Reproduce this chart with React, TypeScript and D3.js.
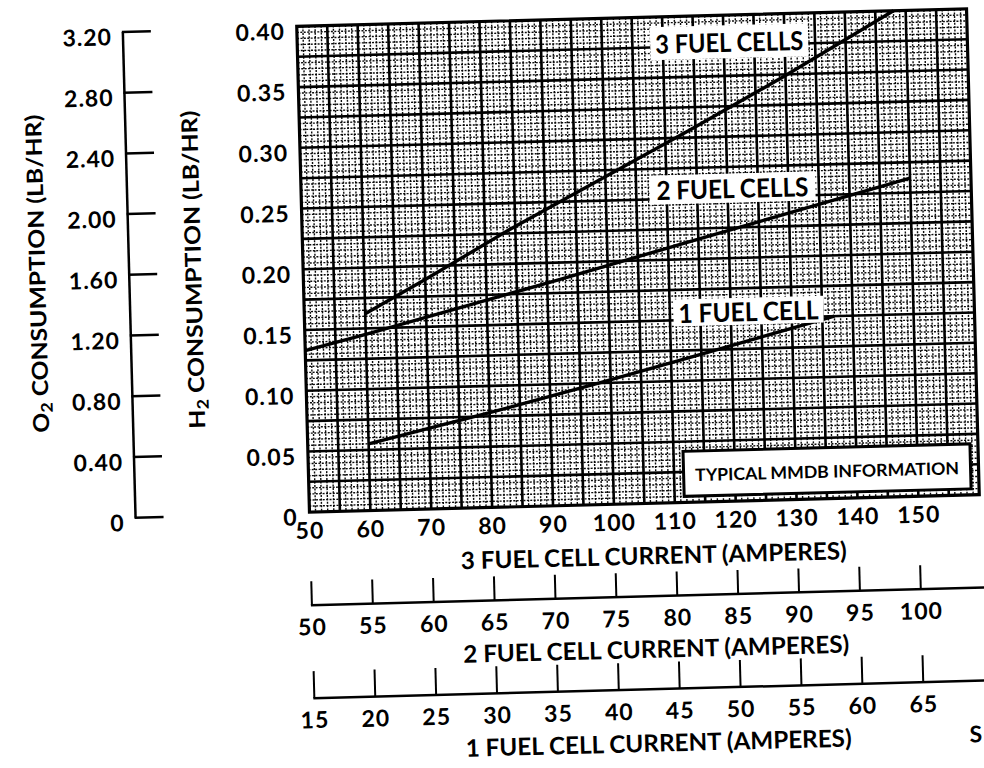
import { useEffect, useRef } from 'react';
import * as d3 from 'd3';

// tick values / labels
const amps3Ticks = [50, 60, 70, 80, 90, 100, 110, 120, 130, 140, 150];
const amps2Ticks = [50, 55, 60, 65, 70, 75, 80, 85, 90, 95, 100];
const amps1Ticks = [15, 20, 25, 30, 35, 40, 45, 50, 55, 60, 65];
const h2Ticks = [0, 0.05, 0.1, 0.15, 0.2, 0.25, 0.3, 0.35, 0.4];
const h2Labels = ['0', '0.05', '0.10', '0.15', '0.20', '0.25', '0.30', '0.35', '0.40'];
const o2Ticks = [0, 0.4, 0.8, 1.2, 1.6, 2.0, 2.4, 2.8, 3.2];
const o2Labels = ['0', '0.40', '0.80', '1.20', '1.60', '2.00', '2.40', '2.80', '3.20'];

// H2 consumption (3 fuel cell current, lb/hr)
const oneCellAmps = [60, 80, 98, 113, 137];
const oneCellH2 = [0.055, 0.078, 0.1, 0.119, 0.15];
const twoCellAmps = [50, 60, 92, 114, 150];
const twoCellH2 = [0.133, 0.145, 0.186, 0.215, 0.262];
const threeCellAmps = [60, 70, 84, 99, 114, 130, 148];
const threeCellH2 = [0.162, 0.189, 0.228, 0.267, 0.306, 0.349, 0.4];

const curveNames = ['3 FUEL CELLS', '2 FUEL CELLS', '1 FUEL CELL'];

const FONT = "Lato, 'DejaVu Sans', sans-serif";

const FuelCellChart = () => {
  const svgRef = useRef<SVGSVGElement>(null);

  useEffect(() => {
    const svg = d3.select(svgRef.current);
    svg.selectAll('*').remove();

    const left = 303, right = 973, top = 17.5, bottom = 503.5;

    // the scanned sheet sits slightly tilted
    const g = svg.append('g').attr('transform', 'rotate(-1.5 638 260.5)');

    const x = d3.scaleLinear().domain([50, 160]).range([left, right]);
    const y = d3.scaleLinear().domain([0, 0.4]).range([bottom, top]);
    const yO2 = d3.scaleLinear().domain([0, 3.2]).range([bottom + 1, top + 1]);
    const x2 = d3.scaleLinear().domain([50, 100]).range([x(50), x(150)]);
    const x1 = d3.scaleLinear().domain([15, 65]).range([x(50), x(150)]);

    // graph paper
    const grid = g.append('g');
    grid.append('rect')
      .attr('x', left).attr('y', top)
      .attr('width', right - left).attr('height', bottom - top)
      .attr('fill', '#fff');

    const minorX = d3.range(50, 161).filter(d => d % 5 !== 0);
    const minorY = d3.range(0, 81).filter(i => i % 5 !== 0).map(i => i * 0.005);
    const majorX = d3.range(55, 160, 5);
    const majorY = d3.range(1, 16).map(i => i * 0.025);

    grid.selectAll('.minor-x').data(minorX).enter().append('line')
      .attr('x1', d => x(d)).attr('x2', d => x(d))
      .attr('y1', top).attr('y2', bottom)
      .attr('stroke', '#000').attr('stroke-width', 1.4)
      .attr('stroke-dasharray', '2 1.4').attr('opacity', 0.95);
    grid.selectAll('.minor-y').data(minorY).enter().append('line')
      .attr('x1', left).attr('x2', right)
      .attr('y1', d => y(d)).attr('y2', d => y(d))
      .attr('stroke', '#000').attr('stroke-width', 1.4)
      .attr('stroke-dasharray', '2 1.4').attr('opacity', 0.95);
    grid.selectAll('.major-x').data(majorX).enter().append('line')
      .attr('x1', d => x(d)).attr('x2', d => x(d))
      .attr('y1', top).attr('y2', bottom)
      .attr('stroke', '#000').attr('stroke-width', 2.6);
    grid.selectAll('.major-y').data(majorY).enter().append('line')
      .attr('x1', left).attr('x2', right)
      .attr('y1', d => y(d)).attr('y2', d => y(d))
      .attr('stroke', '#000').attr('stroke-width', 2.6);

    // curves
    const line = d3.line<[number, number]>().x(d => x(d[0])).y(d => y(d[1]));
    const curves = [
      d3.zip(threeCellAmps, threeCellH2),
      d3.zip(twoCellAmps, twoCellH2),
      d3.zip(oneCellAmps, oneCellH2),
    ] as [number, number][][];
    curves.forEach(c => {
      g.append('path')
        .attr('d', line(c))
        .attr('fill', 'none')
        .attr('stroke', '#000')
        .attr('stroke-width', 3.4);
    });

    // curve labels on white patches
    const labelPos = [
      { a: 120.9, v: 0.378, w: 158, h: 33, len: 148 },
      { a: 120.8, v: 0.2576, w: 166, h: 29, len: 152 },
      { a: 122.9, v: 0.156, w: 150, h: 27, len: 140 },
    ];
    curveNames.forEach((name, i) => {
      const p = labelPos[i];
      const cx = x(p.a), cy = y(p.v);
      g.append('rect')
        .attr('x', cx - p.w / 2).attr('y', cy - p.h / 2)
        .attr('width', p.w).attr('height', p.h)
        .attr('fill', '#fff');
      g.append('text')
        .attr('x', cx).attr('y', cy)
        .attr('text-anchor', 'middle')
        .attr('dominant-baseline', 'central')
        .attr('textLength', p.len)
        .attr('lengthAdjust', 'spacingAndGlyphs')
        .style('font-family', FONT).style('font-weight', 700)
        .style('font-size', '26px')
        .text(name);
    });

    // info box
    const bw = 287, bh = 45;
    const bx = right - 8 - bw, by = bottom - 6 - bh;
    g.append('rect')
      .attr('x', bx).attr('y', by).attr('width', bw).attr('height', bh)
      .attr('fill', '#fff').attr('stroke', '#000').attr('stroke-width', 3);
    g.append('text')
      .attr('x', bx + bw / 2).attr('y', by + bh / 2 + 1)
      .attr('text-anchor', 'middle')
      .attr('dominant-baseline', 'central')
      .attr('textLength', 264)
      .attr('lengthAdjust', 'spacingAndGlyphs')
      .style('font-family', FONT).style('font-weight', 700)
      .style('font-size', '17px')
      .text('TYPICAL MMDB INFORMATION');

    // plot frame
    g.append('rect')
      .attr('x', left).attr('y', top)
      .attr('width', right - left).attr('height', bottom - top)
      .attr('fill', 'none').attr('stroke', '#000').attr('stroke-width', 3.2);

    const numStyle = (sel: any) => sel
      .style('font-family', FONT).style('font-weight', 700)
      .style('font-size', '23px').style('letter-spacing', '1px');

    // H2 labels
    h2Ticks.forEach((t, i) => {
      g.append('text')
        .attr('x', left - 12).attr('y', y(t) + 4)
        .attr('text-anchor', 'end')
        .attr('dominant-baseline', 'central')
        .call(numStyle)
        .text(h2Labels[i]);
    });

    // O2 scale
    const o2x = 129;
    g.append('line')
      .attr('x1', o2x).attr('x2', o2x)
      .attr('y1', yO2(0)).attr('y2', yO2(3.2))
      .attr('stroke', '#000').attr('stroke-width', 2.5);
    o2Ticks.forEach((t, i) => {
      g.append('line')
        .attr('x1', o2x - 1).attr('x2', o2x + 28)
        .attr('y1', yO2(t)).attr('y2', yO2(t))
        .attr('stroke', '#000').attr('stroke-width', 2.5);
      g.append('text')
        .attr('x', o2x - 11).attr('y', yO2(t) + 4)
        .attr('text-anchor', 'end')
        .attr('dominant-baseline', 'central')
        .call(numStyle)
        .text(o2Labels[i]);
    });

    // y titles
    const yTitle = (cx: number, lead: string) => {
      const t = g.append('text')
        .attr('transform', `translate(${cx},258) rotate(-90)`)
        .attr('text-anchor', 'middle')
        .attr('dominant-baseline', 'central')
        .attr('textLength', 318)
        .attr('lengthAdjust', 'spacingAndGlyphs')
        .style('font-family', FONT).style('font-weight', 700)
        .style('font-size', '22px');
      t.append('tspan').text(lead);
      t.append('tspan').attr('dy', 6).style('font-size', '16px').text('2');
      t.append('tspan').attr('dy', -6).text(' CONSUMPTION (LB/HR)');
    };
    yTitle(36, 'O');
    yTitle(192, 'H');

    // 3 fuel cell axis labels
    amps3Ticks.forEach(t => {
      g.append('text')
        .attr('x', x(t)).attr('y', 521)
        .attr('text-anchor', 'middle')
        .attr('dominant-baseline', 'central')
        .call(numStyle)
        .text(t);
    });

    const xTitle = (yy: number, text: string) => {
      g.append('text')
        .attr('x', 646).attr('y', yy)
        .attr('text-anchor', 'middle')
        .attr('dominant-baseline', 'central')
        .attr('textLength', 386)
        .attr('lengthAdjust', 'spacingAndGlyphs')
        .style('font-family', FONT).style('font-weight', 700)
        .style('font-size', '24px')
        .text(text);
    };
    xTitle(555, '3 FUEL CELL CURRENT (AMPERES)');

    // secondary current scales
    const subAxis = (scale: d3.ScaleLinear<number, number>, ticks: number[], base: number, tickLen: number) => {
      g.append('line')
        .attr('x1', scale(ticks[0]) - 1).attr('x2', 1010)
        .attr('y1', base).attr('y2', base)
        .attr('stroke', '#000').attr('stroke-width', 2.5);
      ticks.forEach(t => {
        g.append('line')
          .attr('x1', scale(t)).attr('x2', scale(t))
          .attr('y1', base).attr('y2', base - tickLen)
          .attr('stroke', '#000').attr('stroke-width', 2);
        g.append('text')
          .attr('x', scale(t)).attr('y', base + 21)
          .attr('text-anchor', 'middle')
          .attr('dominant-baseline', 'central')
          .call(numStyle)
          .text(t);
      });
    };
    subAxis(x2, amps2Ticks, 596.5, 24);
    xTitle(648.5, '2 FUEL CELL CURRENT (AMPERES)');
    subAxis(x1, amps1Ticks, 689.5, 27);
    xTitle(742.5, '1 FUEL CELL CURRENT (AMPERES)');

    // letter at the page edge
    g.append('text')
      .attr('x', 957).attr('y', 742)
      .attr('dominant-baseline', 'central')
      .style('font-family', FONT).style('font-weight', 700)
      .style('font-size', '23px')
      .text('S');
  }, []);

  return (
    <div style={{ position: 'absolute', left: 0, top: 0 }}>
      <svg ref={svgRef} width={984} height={768} style={{ display: 'block', background: '#fff', overflow: 'hidden' }}></svg>
    </div>
  );
};

export default function App() {
  return <FuelCellChart />;
}
